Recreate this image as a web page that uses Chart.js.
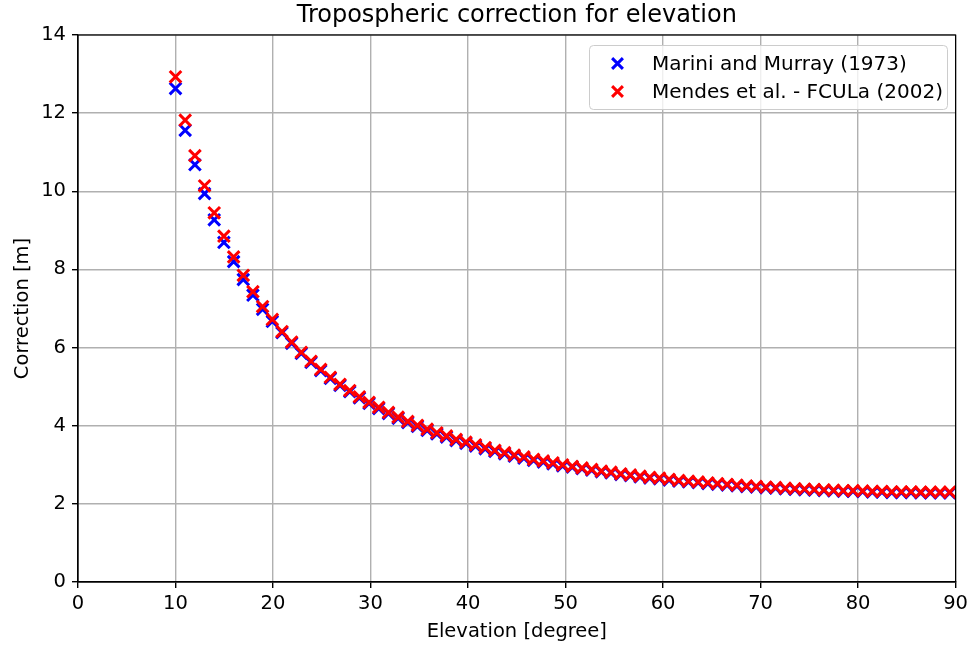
<!DOCTYPE html>
<html>
<head>
<meta charset="utf-8">
<script src="https://cdn.jsdelivr.net/npm/chart.js@4/dist/chart.umd.min.js"></script>
<style>
  html, body { margin: 0; padding: 0; background: #ffffff; }
  #wrap { width: 972px; height: 646px; position: relative; }
</style>
</head>
<body>
<div id="wrap"><canvas id="c" width="972" height="646"></canvas></div>
<script>
// Elevation angles (degrees)
const elevation = [
  10.00, 10.99, 11.99, 12.98, 13.97, 14.96, 15.96, 16.95, 17.94, 18.93,
  19.93, 20.92, 21.91, 22.90, 23.90, 24.89, 25.88, 26.87, 27.87, 28.86,
  29.85, 30.84, 31.84, 32.83, 33.82, 34.81, 35.81, 36.80, 37.79, 38.78,
  39.78, 40.77, 41.76, 42.75, 43.75, 44.74, 45.73, 46.72, 47.72, 48.71,
  49.70, 50.69, 51.69, 52.68, 53.67, 54.66, 55.66, 56.65, 57.64, 58.63,
  59.63, 60.62, 61.61, 62.60, 63.60, 64.59, 65.58, 66.57, 67.57, 68.56,
  69.55, 70.54, 71.54, 72.53, 73.52, 74.51, 75.51, 76.50, 77.49, 78.48,
  79.48, 80.47, 81.46, 82.45, 83.45, 84.44, 85.43, 86.42, 87.42, 88.41,
  89.40
];

// Marini and Murray (1973) correction [m]
const mariniMurray = [
  12.63, 11.56, 10.68, 9.94, 9.27, 8.69, 8.20, 7.74, 7.34, 6.98,
  6.67, 6.38, 6.11, 5.85, 5.62, 5.41, 5.21, 5.03, 4.87, 4.71,
  4.57, 4.44, 4.31, 4.19, 4.08, 3.98, 3.88, 3.79, 3.71, 3.62,
  3.55, 3.48, 3.41, 3.34, 3.28, 3.22, 3.17, 3.11, 3.07, 3.02,
  2.97, 2.94, 2.90, 2.86, 2.82, 2.79, 2.75, 2.72, 2.69, 2.66,
  2.64, 2.61, 2.58, 2.56, 2.54, 2.52, 2.50, 2.48, 2.46, 2.44,
  2.43, 2.41, 2.40, 2.38, 2.37, 2.36, 2.35, 2.34, 2.33, 2.32,
  2.32, 2.31, 2.30, 2.30, 2.29, 2.29, 2.29, 2.28, 2.28, 2.28,
  2.28
];

// Mendes et al. - FCULa (2002) correction [m]
const mendesFCULa = [
  12.93, 11.82, 10.91, 10.14, 9.45, 8.85, 8.32, 7.85, 7.43, 7.05,
  6.72, 6.41, 6.14, 5.88, 5.65, 5.44, 5.24, 5.06, 4.90, 4.74,
  4.60, 4.47, 4.34, 4.22, 4.11, 4.01, 3.91, 3.82, 3.74, 3.65,
  3.58, 3.51, 3.44, 3.37, 3.31, 3.25, 3.20, 3.14, 3.10, 3.05,
  3.00, 2.96, 2.92, 2.88, 2.84, 2.81, 2.77, 2.74, 2.71, 2.68,
  2.66, 2.63, 2.60, 2.58, 2.56, 2.54, 2.52, 2.50, 2.48, 2.46,
  2.45, 2.43, 2.42, 2.40, 2.39, 2.38, 2.37, 2.36, 2.35, 2.34,
  2.34, 2.33, 2.32, 2.32, 2.31, 2.31, 2.31, 2.30, 2.30, 2.30,
  2.30
];

const seriesLabels = ['Marini and Murray (1973)', 'Mendes et al. - FCULa (2002)'];
const xTickStep = 10;
const yTickStep = 2;

const FONT = 'DejaVu Sans';

function pts(ys) { return elevation.map((e, i) => ({ x: e, y: ys[i] })); }

const framePlugin = {
  id: 'frame',
  afterDraw(chart) {
    const a = chart.chartArea, ctx = chart.ctx;
    ctx.save();
    ctx.strokeStyle = '#000000';
    ctx.lineWidth = 1.2;
    ctx.strokeRect(a.left, a.top, a.right - a.left, a.bottom - a.top);
    ctx.restore();
  }
};

const legendPlugin = {
  id: 'boxLegend',
  afterDraw(chart) {
    const ctx = chart.ctx;
    const L = 589.5, T = 45.5, R = 947.5, B = 109.5, rad = 4;
    ctx.save();
    ctx.beginPath();
    ctx.moveTo(L + rad, T);
    ctx.lineTo(R - rad, T); ctx.arcTo(R, T, R, T + rad, rad);
    ctx.lineTo(R, B - rad); ctx.arcTo(R, B, R - rad, B, rad);
    ctx.lineTo(L + rad, B); ctx.arcTo(L, B, L, B - rad, rad);
    ctx.lineTo(L, T + rad); ctx.arcTo(L, T, L + rad, T, rad);
    ctx.closePath();
    ctx.fillStyle = 'rgba(255,255,255,0.8)';
    ctx.fill();
    ctx.strokeStyle = '#cccccc';
    ctx.lineWidth = 1;
    ctx.stroke();
    chart.data.datasets.forEach((ds, i) => {
      const cy = 63.5 + i * 28;
      const cx = 617.5;
      ctx.strokeStyle = ds.borderColor;
      ctx.lineWidth = 3;
      const h = 5.4;
      ctx.beginPath();
      ctx.moveTo(cx - h, cy - h); ctx.lineTo(cx + h, cy + h);
      ctx.moveTo(cx - h, cy + h); ctx.lineTo(cx + h, cy - h);
      ctx.stroke();
      ctx.fillStyle = '#000000';
      ctx.font = '20px "' + FONT + '"';
      ctx.textBaseline = 'middle';
      ctx.textAlign = 'left';
      ctx.fillText(ds.label, 652, cy + 1);
    });
    ctx.restore();
  }
};

new Chart(document.getElementById('c'), {
  type: 'scatter',
  data: {
    datasets: [
      {
        label: seriesLabels[0],
        data: pts(mariniMurray),
        pointStyle: 'crossRot',
        pointRadius: 8.2,
        borderWidth: 3,
        borderColor: '#0000ff',
        backgroundColor: '#0000ff',
        order: 1
      },
      {
        label: seriesLabels[1],
        data: pts(mendesFCULa),
        pointStyle: 'crossRot',
        pointRadius: 8.2,
        borderWidth: 3,
        borderColor: '#ff0000',
        backgroundColor: '#ff0000',
        order: 0
      }
    ]
  },
  options: {
    responsive: false,
    animation: false,
    events: [],
    layout: { padding: { left: 0, right: 16, top: 0, bottom: 0 } },
    plugins: {
      legend: { display: false },
      tooltip: { enabled: false },
      title: {
        display: true,
        text: 'Tropospheric correction for elevation',
        color: '#000000',
        fullSize: false,
        font: { family: FONT, size: 24, weight: 'normal' },
        padding: { top: 1.5, bottom: 4.7 }
      }
    },
    scales: {
      x: {
        type: 'linear',
        min: 0, max: 90,
        afterFit(scale) { scale.height = 64; },
        ticks: { stepSize: xTickStep, color: '#000000', font: { family: FONT, size: 19.5 }, padding: 4, maxRotation: 0 },
        grid: { color: '#b0b0b0', lineWidth: 1.4, tickColor: '#000000', tickLength: 6, drawTicks: true },
        border: { color: '#000000', width: 1.2 },
        title: { display: true, text: 'Elevation [degree]', color: '#000000', font: { family: FONT, size: 19.5 }, padding: { top: 0, bottom: 2 } }
      },
      y: {
        type: 'linear',
        min: 0, max: 14,
        afterFit(scale) { scale.width = 78; },
        ticks: { stepSize: yTickStep, color: '#000000', font: { family: FONT, size: 19.5 }, padding: 6 },
        grid: { color: '#b0b0b0', lineWidth: 1.4, tickColor: '#000000', tickLength: 6, drawTicks: true },
        border: { color: '#000000', width: 1.2 },
        title: { display: true, text: 'Correction [m]', color: '#000000', font: { family: FONT, size: 19.5 }, padding: { top: 11, bottom: 4 } }
      }
    }
  },
  plugins: [framePlugin, legendPlugin]
});
</script>
</body>
</html>
